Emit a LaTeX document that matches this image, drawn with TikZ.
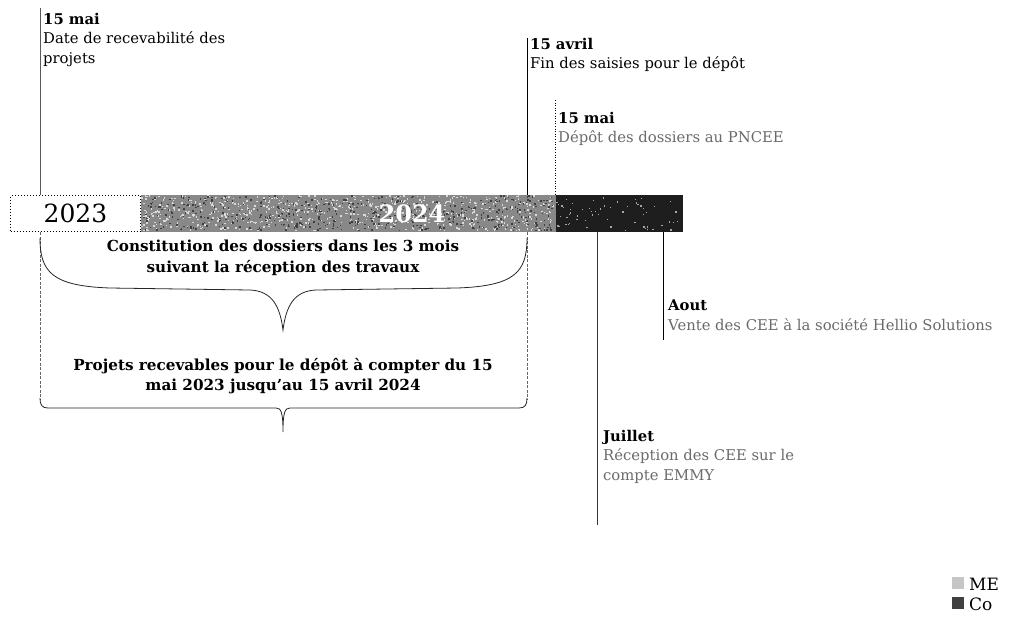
\documentclass[tikz,border=0pt]{standalone}
\usepackage{fontspec}
\setmainfont{DejaVu Serif}
\definecolor{midbar}{HTML}{888888}
\definecolor{darkbar}{HTML}{1E1E1E}
\definecolor{faded}{HTML}{6A6A6A}
\tikzset{
  lbl/.style={anchor=north west,inner sep=0pt,align=left,font=\fontsize{14.8}{19.5}\selectfont},
  ctr/.style={inner sep=0pt,align=center,font=\bfseries\fontsize{15.2}{20.5}\selectfont},
  tick/.style={line width=0.9pt},
  guide/.style={line width=0.6pt,dashed,dash pattern=on 3pt off 1.5pt,gray!80!black},
  brace/.style={line width=0.8pt,black!85},
  key/.style={anchor=west,inner sep=0pt,font=\fontsize{17}{17}\selectfont}
}
\begin{document}
\begin{tikzpicture}[x=1pt,y=-1pt]
\useasboundingbox (0,0) rectangle (1011,630);
\clip (0,0) rectangle (1011,630);
% bar
\node (b23) [draw,dotted,line width=1pt,minimum width=130pt,minimum height=36pt,anchor=north west,inner sep=0pt,
  font=\fontsize{25}{25}\selectfont] at (10,195) {2023};
\fill[midbar] (141,195) rectangle (556,232);
\fill[darkbar] (556,195) rectangle (683,232);
% speckle texture
\pgfmathsetseed{11}
\foreach \i in {1,...,700}{
  \pgfmathsetmacro\xx{141+rnd*413}\pgfmathsetmacro\yy{195+rnd*35}
  \fill[gray!30] (\xx,\yy) rectangle ++(1.5,1.5);
}
\foreach \i in {1,...,500}{
  \pgfmathsetmacro\xx{141+rnd*413}\pgfmathsetmacro\yy{195+rnd*35}
  \fill[gray!50!black] (\xx,\yy) rectangle ++(1.5,1.5);
}
\foreach \i in {1,...,60}{
  \pgfmathsetmacro\xx{556+rnd*125}\pgfmathsetmacro\yy{195+rnd*35}
  \fill[gray!70] (\xx,\yy) rectangle ++(1.3,1.3);
}
\node (b24) [text=white,font=\bfseries\fontsize{24}{24}\selectfont] at (412,213.5) {2024};
% coordinates
\coordinate (t1) at (40,8);   \coordinate (b1) at (40,195);
\coordinate (t2) at (527,38); \coordinate (b2) at (527,195);
\coordinate (t3) at (555,100);\coordinate (b3) at (555,195);
\coordinate (u4) at (597,232);\coordinate (d4) at (597,525);
\coordinate (u5) at (663,232);\coordinate (d5) at (663,340);
\coordinate (g1a) at (40,232); \coordinate (g1b) at (40,400);
\coordinate (g2a) at (527,232);\coordinate (g2b) at (527,400);
% ticks
\draw[tick,gray!70!black] (t1) -- (b1);
\draw[tick] (t2) -- (b2);
\draw[line width=0.6pt,dotted] (t3) -- (b3);
\draw[tick,black!80] (u4) -- (d4);
\draw[tick] (u5) -- (d5);
\draw[guide] (g1a) -- (g1b);
\draw[guide] (g2a) -- (g2b);
% labels
\node (l1) [lbl] at (43,13) {\textbf{15 mai}\\Date de recevabilité des\\projets};
\node (l2) [lbl] at (530,38) {\textbf{15 avril}\\Fin des saisies pour le dépôt};
\node (l3) [lbl] at (558,112) {\textbf{15 mai}\\\textcolor{faded}{Dépôt des dossiers au PNCEE}};
\node (l5) [lbl] at (668,300) {\textbf{Aout}\\\textcolor{faded}{Vente des CEE à la société Hellio Solutions}};
\node (l4) [lbl] at (603,430) {\textbf{Juillet}\\\textcolor{faded}{Réception des CEE sur le}\\\textcolor{faded}{compte EMMY}};
% brace 1
\node (c1) [ctr] at (283,258) {Constitution des dossiers dans les 3 mois\\suivant la réception des travaux};
\draw[brace] (40,238) .. controls (40,272) and (52,286) .. (110,288) -- (250,290)
  .. controls (272,291) and (280,306) .. (283,330)
  .. controls (286,306) and (294,291) .. (316,290) -- (457,288)
  .. controls (515,286) and (527,272) .. (527,238);
% brace 2
\node (c2) [ctr] at (283,376) {Projets recevables pour le dépôt à compter du 15\\mai 2023 jusqu'au 15 avril 2024};
\draw[brace] (40,398) .. controls (40,405) and (42,408) .. (48,408) -- (276,408)
  .. controls (281,408) and (283,412) .. (283,432)
  .. controls (283,412) and (285,408) .. (290,408) -- (519,408)
  .. controls (525,408) and (527,405) .. (527,398);
% legend
\fill[gray!45] (952,577) rectangle (964,589);
\fill[darkbar!85] (952,597) rectangle (964,609);
\node (k1) [key] at (969,584) {ME};
\node (k2) [key] at (969,604) {Co};
\end{tikzpicture}
\end{document}
